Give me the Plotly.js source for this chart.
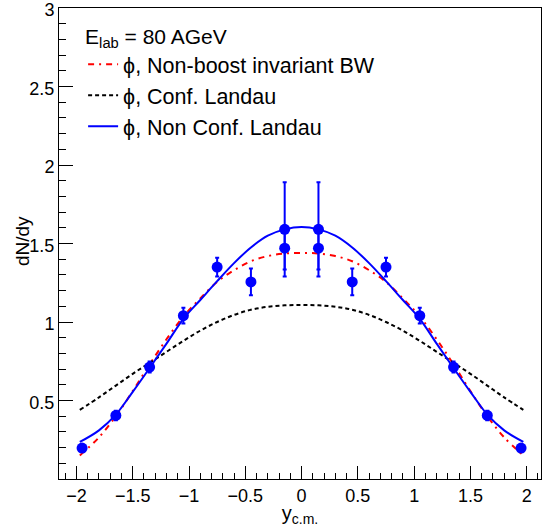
<!DOCTYPE html>
<html>
<head>
<meta charset="utf-8">
<script src="https://cdn.plot.ly/plotly-3.0.1.min.js"></script>
<style>html,body{margin:0;padding:0;background:#fff;}#chart{width:550px;height:527px;}</style>
</head>
<body>
<div id="chart"></div>
<script>
// Measured data points (y_c.m., dN/dy, error)
const dataX   = [-1.95,-1.65,-1.35,-1.05,-0.75,-0.45,-0.15,-0.15,0.15,0.15,0.45,0.75,1.05,1.35,1.65,1.95];
const dataY   = [0.197,0.405,0.713,1.04,1.35,1.255,1.59,1.47,1.59,1.47,1.255,1.35,1.04,0.713,0.405,0.197];
const dataErr = [0.02,0.03,0.035,0.05,0.06,0.085,0.30,0.135,0.30,0.135,0.085,0.06,0.05,0.035,0.03,0.02];

// Model curves
const curveX = [-1.97,-1.8,-1.65,-1.5,-1.35,-1.2,-1.05,-0.9,-0.75,-0.6,-0.45,-0.3,-0.15,0,
                0.15,0.3,0.45,0.6,0.75,0.9,1.05,1.2,1.35,1.5,1.65,1.8,1.97];
const bwY    = [0.15,0.265,0.40,0.56,0.73,0.89,1.035,1.15,1.255,1.33,1.387,1.42,1.436,1.44,
                1.436,1.42,1.387,1.33,1.255,1.15,1.035,0.89,0.73,0.56,0.40,0.265,0.15];
const confY  = [0.44,0.52,0.595,0.67,0.74,0.81,0.88,0.945,1.0,1.045,1.078,1.097,1.106,1.108,
                1.106,1.097,1.078,1.045,1.0,0.945,0.88,0.81,0.74,0.67,0.595,0.52,0.44];
const nonConfY = [0.236,0.31,0.41,0.555,0.707,0.862,1.02,1.14,1.26,1.375,1.475,1.55,1.59,1.605,
                1.59,1.55,1.475,1.375,1.26,1.14,1.02,0.862,0.707,0.555,0.41,0.31,0.236];

const legendTitle = "E<sub>lab</sub> = 80 AGeV";
const names = ["ϕ, Non-boost invariant BW", "ϕ, Conf. Landau", "ϕ, Non Conf. Landau"];
const yTicks = [0.5,1,1.5,2,2.5,3];
const yTitle = "dN/dy";
const xTitle = "y<sub>c.m.</sub>";

const FONT = "Liberation Sans, Arial, Helvetica, sans-serif";

const traces = [
  {x: curveX, y: bwY, mode: "lines", name: names[0],
   line: {color: "#ff0000", width: 2, dash: "6px,5px,2px,5px", shape: "spline"}},
  {x: curveX, y: confY, mode: "lines", name: names[1],
   line: {color: "#000000", width: 2, dash: "4px,3px", shape: "spline"}},
  {x: curveX, y: nonConfY, mode: "lines", name: names[2],
   line: {color: "#0000ff", width: 2, shape: "spline"}},
  {x: dataX, y: dataY, mode: "markers", showlegend: false,
   marker: {color: "#0000ff", size: 11},
   error_y: {type: "data", array: dataErr, visible: true, color: "#0000ff", thickness: 2, width: 2}}
];

const layout = {
  width: 550, height: 527,
  margin: {l: 59, r: 9, t: 8, b: 48, pad: 0},
  paper_bgcolor: "#ffffff", plot_bgcolor: "#ffffff",
  font: {family: FONT, size: 18, color: "#000"},
  showlegend: true,
  legend: {
    x: 0.05, y: 0.982, xanchor: "left", yanchor: "top",
    bgcolor: "rgba(0,0,0,0)", borderwidth: 0,
    font: {family: FONT, size: 21.5, color: "#000"},
    title: {text: legendTitle, font: {family: FONT, size: 21, color: "#000"}, side: "top"},
    tracegroupgap: 0, itemwidth: 30
  },
  annotations: [
    {text: yTitle, xref: "paper", yref: "paper", x: -0.077, y: 0.505, textangle: -90,
     showarrow: false, xanchor: "center", yanchor: "middle", font: {family: FONT, size: 19, color: "#000"}}
  ],
  xaxis: {
    range: [-2.155, 2.127], showgrid: false, zeroline: false,
    showline: true, linecolor: "#000", linewidth: 1, mirror: true,
    ticks: "inside", ticklen: 13, tickcolor: "#000", tickwidth: 1,
    tickmode: "linear", tick0: 0, dtick: 0.5, ticklabeloverflow: "allow",
    minor: {ticks: "inside", ticklen: 6, tickcolor: "#000", tickwidth: 1, dtick: 0.1, tick0: 0, showgrid: false},
    tickfont: {family: FONT, size: 18},
    title: {text: xTitle, font: {family: FONT, size: 20}, standoff: 4}
  },
  yaxis: {
    range: [0, 3], showgrid: false, zeroline: false,
    showline: true, linecolor: "#000", linewidth: 1, mirror: true,
    ticks: "inside", ticklen: 14, tickcolor: "#000", tickwidth: 1,
    tickmode: "array", tickvals: yTicks, ticklabeloverflow: "allow", ticklabelshift: 2,
    minor: {ticks: "inside", ticklen: 7, tickcolor: "#000", tickwidth: 1, tickmode: "linear", dtick: 0.1, tick0: 0, showgrid: false},
    tickfont: {family: FONT, size: 18}
  }
};

Plotly.newPlot("chart", traces, layout, {displayModeBar: false, staticPlot: true});
</script>
</body>
</html>
